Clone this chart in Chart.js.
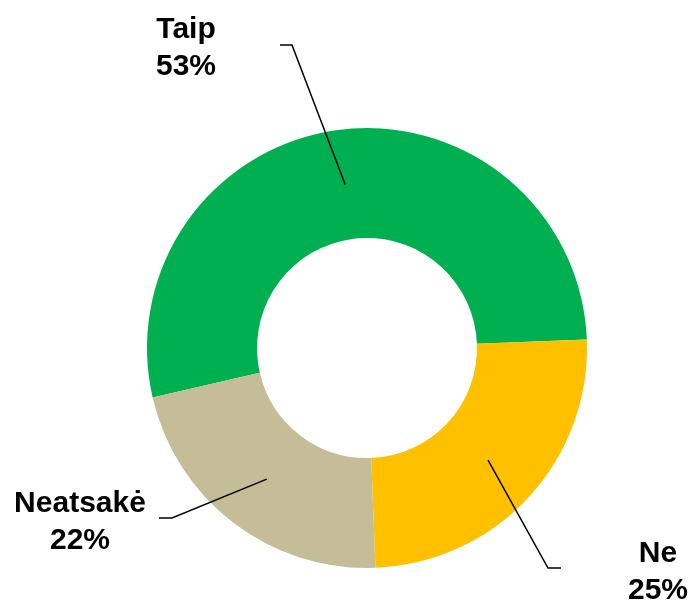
<!DOCTYPE html>
<html>
<head>
<meta charset="utf-8">
<script src="https://cdn.jsdelivr.net/npm/chart.js@4"></script>
<style>
  html, body { margin: 0; padding: 0; background: #fff; }
  #wrap { width: 692px; height: 600px; position: relative; }
</style>
</head>
<body>
<div id="wrap"><canvas id="donut"></canvas></div>
<script>
// data
const categories = ["Taip", "Ne", "Neatsakė"];
const shares = [53, 25, 22];
const sliceColors = ["#00B050", "#FFC000", "#C4BD97"];

// where each callout sits, relative to the doughnut centre
const calloutOffsets = [
  { elbowX: -75, elbowY: -303, stub: -12, textX: -181, textY: -310 },
  { elbowX: 181, elbowY: 220, stub: 13, textX: 291, textY: 214 },
  { elbowX: -195, elbowY: 170, stub: -13, textX: -287, textY: 164 }
];

const calloutPlugin = {
  id: "callouts",
  afterDraw(chart) {
    const ctx = chart.ctx;
    const meta = chart.getDatasetMeta(0);
    ctx.save();
    meta.data.forEach((arc, i) => {
      const c = calloutOffsets[i];
      const p = arc.tooltipPosition();
      const cx = arc.x, cy = arc.y;
      // leader line
      ctx.strokeStyle = "#000";
      ctx.lineWidth = 1.5;
      ctx.beginPath();
      ctx.moveTo(p.x, p.y);
      ctx.lineTo(cx + c.elbowX, cy + c.elbowY);
      ctx.lineTo(cx + c.elbowX + c.stub, cy + c.elbowY);
      ctx.stroke();
      // label text
      ctx.fillStyle = "#000";
      ctx.font = "bold 30px 'Liberation Sans', Arial, sans-serif";
      ctx.textAlign = "center";
      ctx.textBaseline = "alphabetic";
      ctx.fillText(categories[i], cx + c.textX, cy + c.textY);
      ctx.fillText(shares[i] + "%", cx + c.textX, cy + c.textY + 37);
    });
    ctx.restore();
  }
};

new Chart(document.getElementById("donut"), {
  type: "doughnut",
  data: {
    labels: categories,
    datasets: [{
      data: shares,
      backgroundColor: sliceColors,
      borderWidth: 0,
      hoverOffset: 0,
      offset: 0
    }]
  },
  options: {
    responsive: true,
    maintainAspectRatio: false,
    animation: false,
    rotation: 257,
    cutout: "50%",
    layout: { padding: { top: 128, bottom: 32, left: 147, right: 105 } },
    plugins: {
      legend: { display: false },
      tooltip: { enabled: false }
    }
  },
  plugins: [calloutPlugin]
});
</script>
</body>
</html>
